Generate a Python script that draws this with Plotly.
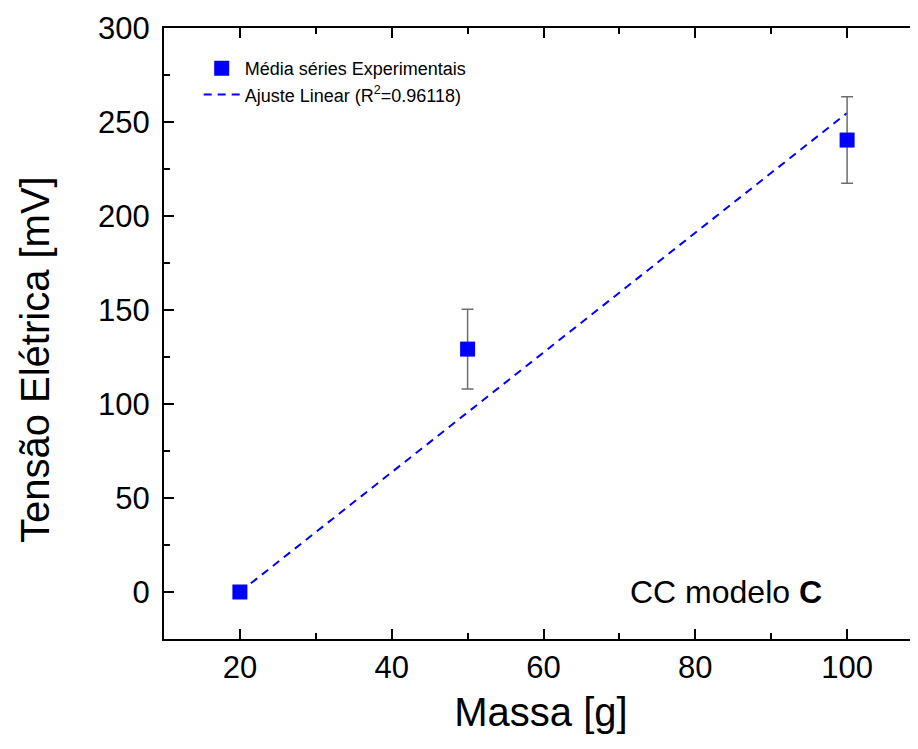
import plotly.graph_objects as go

# data
massa = [20, 50, 100]
tensao = [0.0, 129.2, 240.4]
erro = [1.0, 21.2, 23.0]
fit_x = [20, 100]
fit_y = [0.0, 254.8]
x_ticks = [20, 40, 60, 80, 100]
y_ticks = [0, 50, 100, 150, 200, 250, 300]

FONT = "Liberation Sans, Arial, sans-serif"

fig = go.Figure()
fig.add_trace(go.Scatter(
    x=fit_x, y=fit_y, mode="lines",
    name="Ajuste Linear (R<sup>2</sup>=0.96118)",
    line=dict(color="#0000ff", width=2, dash="8px,6px"),
    legendrank=2,
))
fig.add_trace(go.Scatter(
    x=massa, y=tensao, mode="markers",
    name="Média séries Experimentais",
    marker=dict(symbol="square", size=15, color="#0000ff"),
    error_y=dict(type="data", array=erro, visible=True, color="#6e6e6e",
                 thickness=1.5, width=6),
    legendrank=1,
))
# invisible trace to carry the right-side mirrored ticks
fig.add_trace(go.Scatter(x=[None], y=[None], yaxis="y2", showlegend=False,
                         hoverinfo="skip"))

fig.update_layout(
    width=910, height=733,
    paper_bgcolor="white", plot_bgcolor="white",
    margin=dict(l=156, r=0, t=20, b=102),
    font=dict(family=FONT, color="black"),
    showlegend=True,
    legend=dict(x=0.046, y=0.964, xanchor="left", yanchor="top",
                bgcolor="rgba(0,0,0,0)", font=dict(size=18, family=FONT),
                tracegroupgap=0, itemwidth=36),
    xaxis=dict(
        range=[10, 109.34], tickvals=x_ticks, ticks="inside", ticklen=10,
        tickwidth=2, tickcolor="black", showline=True, linewidth=2,
        linecolor="black", mirror="ticks", showgrid=False, zeroline=False,
        tickfont=dict(size=31, family=FONT),
        minor=dict(ticks="inside", ticklen=6, tickwidth=2, dtick=10,
                   tick0=0, tickcolor="black", showgrid=False),
        title=dict(text="Massa [g]", font=dict(size=40, family=FONT),
                   standoff=14),
    ),
    yaxis=dict(
        range=[-25, 300], tickvals=y_ticks, ticks="inside", ticklen=10,
        tickwidth=2, tickcolor="black", showline=True, linewidth=2,
        linecolor="black", mirror=False, showgrid=False, zeroline=False,
        tickfont=dict(size=31, family=FONT), ticklabelstandoff=6,
        minor=dict(ticks="inside", ticklen=6, tickwidth=2, dtick=25,
                   tick0=0, tickcolor="black", showgrid=False),
    ),
    yaxis2=dict(
        range=[-25, 300], overlaying="y", side="right", tickvals=y_ticks,
        ticks="inside", ticklen=5, tickwidth=2, tickcolor="black",
        showline=False, showticklabels=False, showgrid=False, zeroline=False,
        minor=dict(ticks="inside", ticklen=1, tickwidth=1, dtick=25,
                   tick0=0, tickcolor="#bbb", showgrid=False),
    ),
)

# y-axis title (Origin places it slightly below the axis centre)
fig.add_annotation(
    x=-0.171, y=0.4566, xref="paper", yref="paper",
    xanchor="center", yanchor="middle", textangle=-90,
    text="Tensão Elétrica [mV]", showarrow=False,
    font=dict(size=40, family=FONT, color="black"),
)

fig.add_annotation(
    x=97, y=0, xref="x", yref="y", xanchor="right", yanchor="middle",
    text="CC modelo <b>C</b>", showarrow=False,
    font=dict(size=32, family=FONT, color="black"),
)

fig.write_html("out.html")
